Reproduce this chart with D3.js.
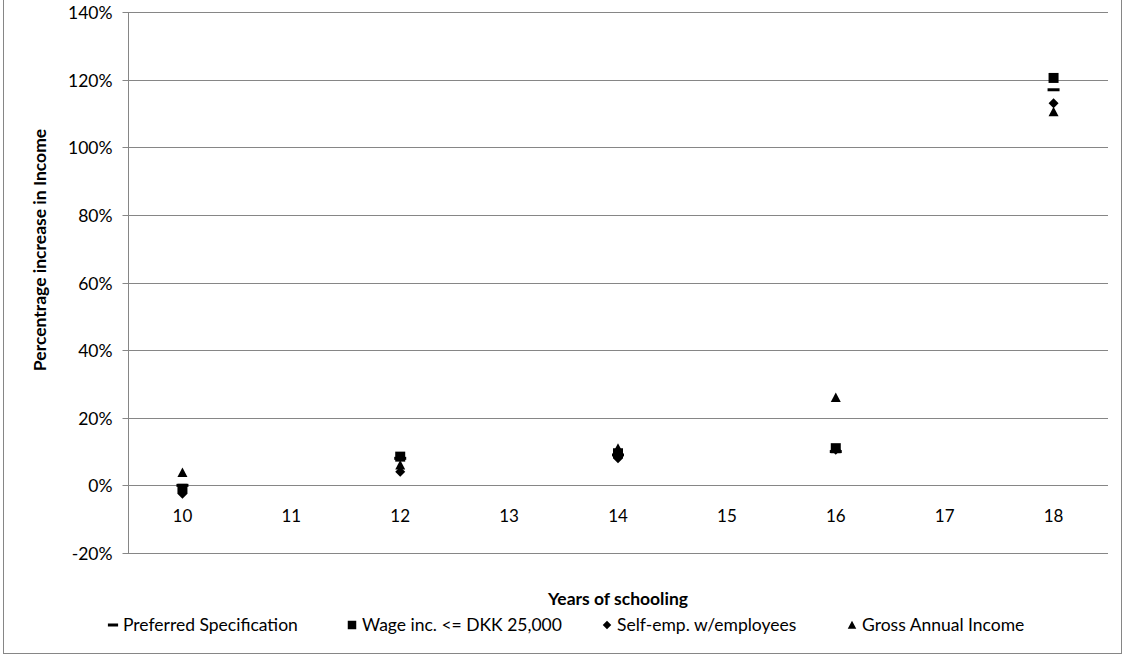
<!DOCTYPE html>
<html>
<head>
<meta charset="utf-8">
<script src="https://cdn.jsdelivr.net/npm/d3@7"></script>
<style>
  body { margin: 0; background: #fff; }
  svg { display: block; font-family: Lato, "Open Sans", sans-serif; }
</style>
</head>
<body>
<div id="chart"></div>
<script>
// categories on the x axis
var categories = [10, 11, 12, 13, 14, 15, 16, 17, 18];
// years that carry a value
var years = [10, 12, 14, 16, 18];

// percentage increase, one array per series
var preferred = [0, 8, 9, 10, 117];
var wageInc = [-1, 8.5, 9.5, 11, 120.5];
var selfEmp = [-2.5, 4, 8, 10.5, 113];
var grossIncome = [3.8, 6, 11, 26, 110.5];

var seriesNames = ["Preferred Specification", "Wage inc. <= DKK 25,000", "Self-emp. w/employees", "Gross Annual Income"];
var yTicks = [-20, 0, 20, 40, 60, 80, 100, 120, 140];

var width = 1127, height = 656;
var margin = { top: 12, right: 19, bottom: 103, left: 128 };
var innerW = width - margin.left - margin.right,
    innerH = height - margin.top - margin.bottom;

var svg = d3.select("#chart").append("svg")
    .attr("width", width)
    .attr("height", height);

// outer chart border
svg.append("rect")
    .attr("x", 3.5).attr("y", -2)
    .attr("width", 1118).attr("height", 655.5)
    .attr("fill", "none")
    .attr("stroke", "#868686")
    .attr("stroke-width", 1);

var g = svg.append("g")
    .attr("transform", "translate(" + margin.left + "," + margin.top + ")");

var x = d3.scaleBand().domain(categories).range([0, innerW]);
var y = d3.scaleLinear().domain([-20, 140]).range([innerH, 0]);

// horizontal gridlines
g.append("g")
    .selectAll("line")
    .data(yTicks)
    .enter().append("line")
    .attr("x1", 0).attr("x2", innerW)
    .attr("y1", d => Math.round(y(d)) + 0.5)
    .attr("y2", d => Math.round(y(d)) + 0.5)
    .attr("stroke", "#868686")
    .attr("stroke-width", 1);

// y axis
var yAxis = g.append("g")
    .attr("transform", "translate(0.5,0)")
    .call(d3.axisLeft(y).tickValues(yTicks).tickSize(6).tickPadding(10)
        .tickFormat(d => d + "%"));
yAxis.selectAll("line").attr("stroke", "#868686");
yAxis.select(".domain").attr("stroke", "#868686").attr("d", "M0," + innerH + "V0");
yAxis.selectAll("text")
    .attr("font-size", 17.5)
    .attr("font-family", "Lato, sans-serif")
    .attr("fill", "#000")
    .attr("dy", "0.35em")
    .attr("y", 0);
yAxis.selectAll(".tick").each(function() {
    d3.select(this).attr("transform", "translate(0," + (Math.round(y(d3.select(this).datum())) + 0.5) + ")");
});

// x axis line at 0%
g.append("line")
    .attr("x1", 0).attr("x2", innerW)
    .attr("y1", Math.round(y(0)) + 0.5).attr("y2", Math.round(y(0)) + 0.5)
    .attr("stroke", "#868686");

// x tick labels
g.append("g")
    .selectAll("text")
    .data(categories)
    .enter().append("text")
    .attr("x", d => x(d) + x.bandwidth() / 2)
    .attr("y", y(0) + 31)
    .attr("dy", "0.35em")
    .attr("text-anchor", "middle")
    .attr("font-size", 17)
    .text(d => d);

// axis titles
svg.append("text")
    .attr("x", margin.left + innerW / 2)
    .attr("y", 599)
    .attr("dy", "0.35em")
    .attr("text-anchor", "middle")
    .attr("font-size", 17.5)
    .attr("font-weight", "bold")
    .text("Years of schooling");

svg.append("text")
    .attr("transform", "translate(46,250) rotate(-90)")
    .attr("text-anchor", "middle")
    .attr("font-size", 17.5)
    .attr("font-weight", "bold")
    .text("Percentrage increase in Income");

// marker shapes
var symbolPaths = [
    function() { return "M-6,-1.5H6V1.5H-6Z"; },
    function() { return "M-5,-5H5V5H-5Z"; },
    function() { return "M0,-5L5,0L0,5L-5,0Z"; },
    function() { return "M0,-5L5,4.5L-5,4.5Z"; }
];

var allSeries = [preferred, wageInc, selfEmp, grossIncome];

allSeries.forEach(function(values, si) {
    var pts = years.map(function(yr, i) { return { year: yr, value: values[i] }; });
    g.append("g")
        .attr("class", "series-" + si)
        .selectAll("path")
        .data(pts)
        .enter().append("path")
        .attr("transform", d => "translate(" + (x(d.year) + x.bandwidth() / 2) + "," + y(d.value) + ")")
        .attr("d", symbolPaths[si])
        .attr("fill", "#000");
});

// legend
var legendX = [113, 352, 607, 852];
var legend = svg.append("g").attr("transform", "translate(0,625)");
seriesNames.forEach(function(name, i) {
    var item = legend.append("g").attr("transform", "translate(" + legendX[i] + ",0)");
    item.append("path")
        .attr("d", symbolPaths[i])
        .attr("transform", i === 0 ? "scale(0.85,1)" : "scale(0.85)")
        .attr("fill", "#000");
    item.append("text")
        .attr("x", 10)
        .attr("dy", "0.35em")
        .attr("font-size", 17.5)
        .text(name);
});
</script>
</body>
</html>
